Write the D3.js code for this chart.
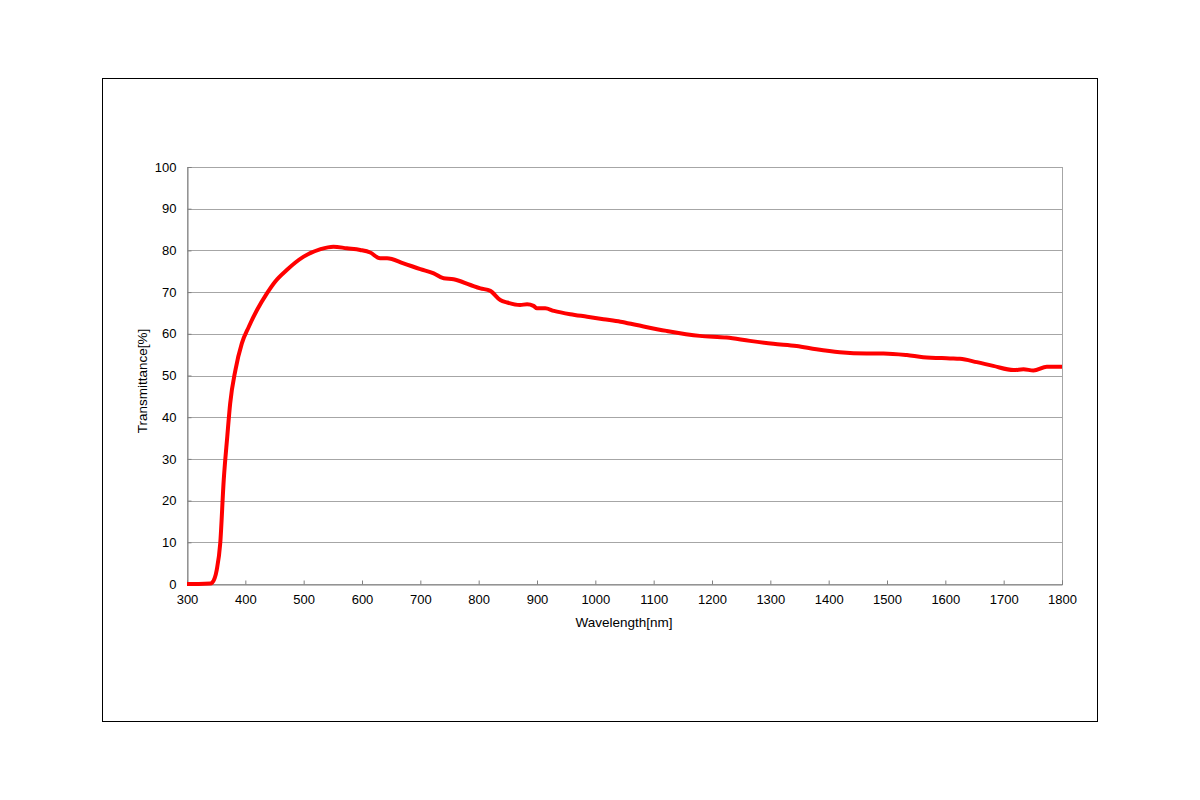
<!DOCTYPE html>
<html><head><meta charset="utf-8">
<script src="https://cdn.jsdelivr.net/npm/d3@7"></script>
<style>body{margin:0;background:#fff;}svg{display:block;}text{font-family:"Liberation Sans",Arial,sans-serif;}</style>
</head><body>
<svg id="c" width="1200" height="800"></svg>
<script>
const wavelength = [300,320,340,343,351,357,363,369,374,383,394,406,420,437,451,471,500,529,551,574,597,614,631,643,671,700,723,740,757,786,803,820,837,849,871,883,894,900,914,929,957,986,1014,1043,1071,1122,1179,1225,1265,1305,1345,1379,1419,1465,1494,1534,1562,1608,1625,1654,1682,1717,1734,1751,1774,1797,1800];
const transmittance = [0,0,0.1,0.3,3.4,9.8,25,35.3,43.3,51.3,57.7,61.7,65.7,69.7,72.5,75.3,78.5,80.3,80.9,80.5,80.1,79.5,78.1,78.1,76.9,75.5,74.5,73.3,73.1,71.7,70.9,70.3,68.1,67.5,66.9,67.1,66.7,66.1,66.1,65.5,64.7,64.1,63.5,62.9,62.1,60.7,59.5,59.1,58.3,57.6,57.1,56.3,55.6,55.3,55.3,54.9,54.4,54.1,54.0,53.2,52.3,51.3,51.5,51.2,52.1,52.1,52.1];
const xTicks = [300,400,500,600,700,800,900,1000,1100,1200,1300,1400,1500,1600,1700,1800];
const yTicks = [0,10,20,30,40,50,60,70,80,90,100];

const svg = d3.select("#c");
const L=187,R=1062,T=167,B=584;
const x = d3.scaleLinear().domain([300,1800]).range([L,R]);
const y = d3.scaleLinear().domain([0,100]).range([B,T]);

svg.append("rect").attr("x",102.5).attr("y",78.5).attr("width",995).attr("height",643)
  .attr("fill","none").attr("stroke","#000").attr("stroke-width",1);

// gridlines
svg.append("g").selectAll("line").data(yTicks.filter(d=>d>0)).join("line")
  .attr("x1",L).attr("x2",R).attr("y1",d=>Math.round(y(d))+0.5).attr("y2",d=>Math.round(y(d))+0.5)
  .attr("stroke","#a6a6a6").attr("stroke-width",1);
// frame
svg.append("rect").attr("x",L+0.5).attr("y",T+0.5).attr("width",R-L).attr("height",B-T)
  .attr("fill","none").attr("stroke","#a6a6a6");

const gx = svg.append("g").attr("transform",`translate(0,${B+0.5})`)
  .call(d3.axisBottom(x).tickValues(xTicks).tickSize(-4).tickPadding(10).tickFormat(d3.format("d")));
const gy = svg.append("g").attr("transform",`translate(${L+0.5},0)`)
  .call(d3.axisLeft(y).tickValues(yTicks).tickSize(-4).tickPadding(11).tickFormat(d3.format("d")));
[gx,gy].forEach(g=>{
  g.select(".domain").attr("stroke","#808080");
  g.selectAll(".tick line").attr("stroke","#808080");
  g.selectAll("text").attr("font-size",13).attr("fill","#000").attr("font-family","'Liberation Sans',Arial,sans-serif");
});

const line = d3.line().x((d,i)=>x(wavelength[i])).y(d=>y(d)).curve(d3.curveMonotoneX);
svg.append("path").datum(transmittance).attr("d",line)
  .attr("fill","none").attr("stroke","#ff0000").attr("stroke-width",4).attr("stroke-linejoin","round");

svg.append("text").attr("x",624).attr("y",627).attr("text-anchor","middle")
  .attr("font-size",13.5).text("Wavelength[nm]");
svg.append("text").attr("transform",`translate(147,381) rotate(-90)`).attr("text-anchor","middle")
  .attr("font-size",13.5).text("Transmittance[%]");
</script>
</body></html>
